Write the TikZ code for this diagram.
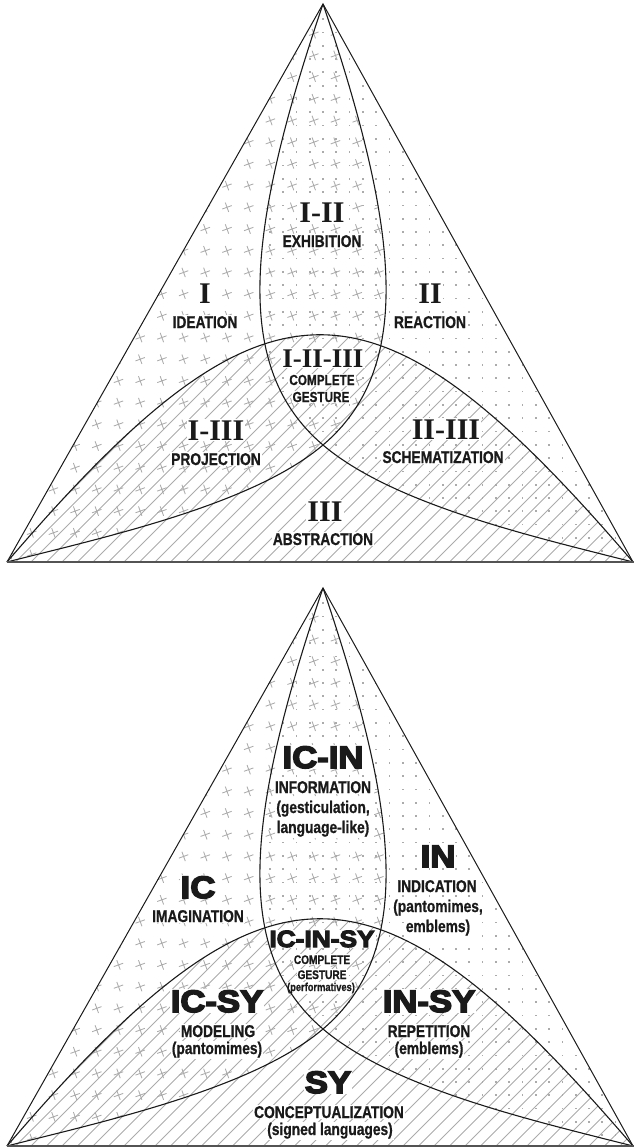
\documentclass[tikz,border=0pt]{standalone}
\usepackage{fontspec}
\setmainfont{Liberation Sans}
\newfontfamily\numfont{Liberation Serif}[UprightFont={* Bold}]
\newfontfamily\capfont{Liberation Sans}[UprightFont={* Bold},FakeStretch=0.81,FakeBold=0.8]
\newfontfamily\heavyfont{Liberation Sans}[UprightFont={* Bold},FakeStretch=1.12,FakeBold=5]

\definecolor{ink}{HTML}{1A1A1A}
\definecolor{pat}{HTML}{ABABAB}

\tikzset{
  curveline/.style={draw=ink, line width=1.1pt},
  sideline/.style={draw=ink, line width=1pt},
  baseline/.style={draw=ink!75, line width=2pt},
  crossmark/.style={draw=pat, line width=0.85pt},
  hatchline/.style={draw=pat, line width=0.9pt},
  lbl/.style={anchor=base, fill=white, inner sep=1pt, text=ink},
  roman/.style={lbl, font=\numfont\fontsize{30}{30}\selectfont},
  romansm/.style={lbl, font=\numfont\fontsize{27}{27}\selectfont},
  labeltext/.style={lbl, font=\capfont\fontsize{17}{17}\selectfont},
  labelsm/.style={lbl, font=\capfont\fontsize{14.5}{14.5}\selectfont},
  labeltiny/.style={lbl, font=\capfont\fontsize{12.5}{12.5}\selectfont},
  labelmini/.style={lbl, inner sep=0.3pt, font=\capfont\fontsize{11.5}{11.5}\selectfont},
  heavy/.style={lbl, font=\heavyfont\fontsize{31}{31}\selectfont},
  heavysm/.style={lbl, font=\heavyfont\fontsize{23.5}{23.5}\selectfont},
}

% the three overlapping sets of one triangle
\def\setIpath{(323,4) -- (7,562) .. controls (107,536.6) and (253,504.5) .. (323,445) .. controls (413,368.5) and (401,234) .. cycle}
\def\setIIpath{(323,4) -- (633,562) .. controls (533,536.6) and (393,504.5) .. (323,445) .. controls (233,368.5) and (245,234) .. cycle}
\def\setIIIpath{(7,562) -- (633,562) .. controls (373,259) and (267,259) .. cycle}

\newcommand\triangleVenn{%
  % crosses fill the first set
  \begin{scope}
    \clip \setIpath;
    \foreach \i in {0,...,19} {
      \foreach \j in {0,...,26} {
        \draw[crossmark] ({10+21.7*\i},{12+21.7*\j}) +(-4.7,1.7) -- +(4.7,-1.7) +(-1.7,-4.7) -- +(1.7,4.7);
      }
    }
  \end{scope}
  % dots fill the second set
  \begin{scope}
    \clip \setIIpath;
    \foreach \i in {0,...,30} {
      \foreach \j in {0,...,42} {
        \fill[pat] ({229+13.3*\i},{5+13.3*\j}) rectangle +(1.7,1.7);
      }
    }
  \end{scope}
  % diagonal hatching fills the third set
  \begin{scope}
    \clip \setIIIpath;
    \foreach \k in {-15,...,41} {
      \draw[hatchline] ({15.5*\k-10},572) -- +(320,-320);
    }
  \end{scope}
}

\newcommand\triangleLines{%
  \coordinate (apex) at (323,4);
  \coordinate (bl) at (7,562);
  \coordinate (br) at (633,562);
  \coordinate (mid) at (323,445);
  \coordinate (brend) at (634,562);
  \draw[curveline] (bl) .. controls (267,259) and (373,259) .. (br);
  \draw[curveline] (apex) .. controls (401,234) and (413,368.5) .. (mid) .. controls (253,504.5) and (107,536.6) .. (bl);
  \draw[curveline] (apex) .. controls (245,234) and (233,368.5) .. (mid) .. controls (393,504.5) and (533,536.6) .. (br);
  \draw[sideline] (bl) -- (apex) -- (br);
  \draw[baseline] (bl) -- (brend);
}

\begin{document}
\begin{tikzpicture}[x=1pt, y=-1pt]
  \useasboundingbox (0,0) rectangle (634,1148);

  % upper triangle
  \begin{scope}[name prefix=top-]
    \triangleVenn
    \node[roman] (n12) at (322,222) {I-II};
    \node[labeltext] (n12t) at (322,247) {EXHIBITION};
    \node[roman] (n1) at (205,303) {I};
    \node[labeltext] (n1t) at (205,328) {IDEATION};
    \node[roman] (n2) at (430,303) {II};
    \node[labeltext] (n2t) at (430,328) {REACTION};
    \node[romansm] (n123) at (323,367) {I-II-III};
    \node[labelsm] (n123a) at (322,385) {COMPLETE};
    \node[labelsm] (n123b) at (321,402) {GESTURE};
    \node[roman] (n13) at (216,440) {I-III};
    \node[labeltext] (n13t) at (216,465) {PROJECTION};
    \node[roman] (n23) at (446,439) {II-III};
    \node[labeltext] (n23t) at (443,463) {SCHEMATIZATION};
    \node[roman] (n3) at (325,521) {III};
    \node[labeltext] (n3t) at (323,545) {ABSTRACTION};
    \triangleLines
  \end{scope}

  % lower triangle
  \begin{scope}[shift={(0,584)}, name prefix=bot-]
    \triangleVenn
  \end{scope}
  \node[heavy] (icin) at (323,768) {IC-IN};
  \node[labeltext] (icina) at (323,793) {INFORMATION};
  \node[labeltext] (icinb) at (323,813) {(gesticulation,};
  \node[labeltext] (icinc) at (323,833) {language-like)};
  \node[heavy] (in) at (438,867) {IN};
  \node[labeltext] (ina) at (437,892) {INDICATION};
  \node[labeltext] (inb) at (438,912) {(pantomimes,};
  \node[labeltext] (inc) at (438,932) {emblems)};
  \node[heavy] (ic) at (198,898) {IC};
  \node[labeltext] (ica) at (198,922) {IMAGINATION};
  \node[heavysm] (icinsy) at (322,947) {IC-IN-SY};
  \node[labeltiny] (icinsya) at (322,964) {COMPLETE};
  \node[labeltiny] (icinsyb) at (322,979) {GESTURE};
  \node[labelmini] (icinsyc) at (321,991) {(performatives)};
  \node[heavy] (icsy) at (217,1012) {IC-SY};
  \node[labeltext] (icsya) at (218,1037) {MODELING};
  \node[labeltext] (icsyb) at (217,1054) {(pantomimes)};
  \node[heavy] (insy) at (429,1012) {IN-SY};
  \node[labeltext] (insya) at (429,1037) {REPETITION};
  \node[labeltext] (insyb) at (429,1054) {(emblems)};
  \node[heavy] (sy) at (328,1093) {SY};
  \node[labeltext] (sya) at (329,1118) {CONCEPTUALIZATION};
  \node[labeltext] (syb) at (330,1135) {(signed languages)};
  \begin{scope}[shift={(0,584)}, name prefix=bot-]
    \triangleLines
  \end{scope}
\end{tikzpicture}
\end{document}
